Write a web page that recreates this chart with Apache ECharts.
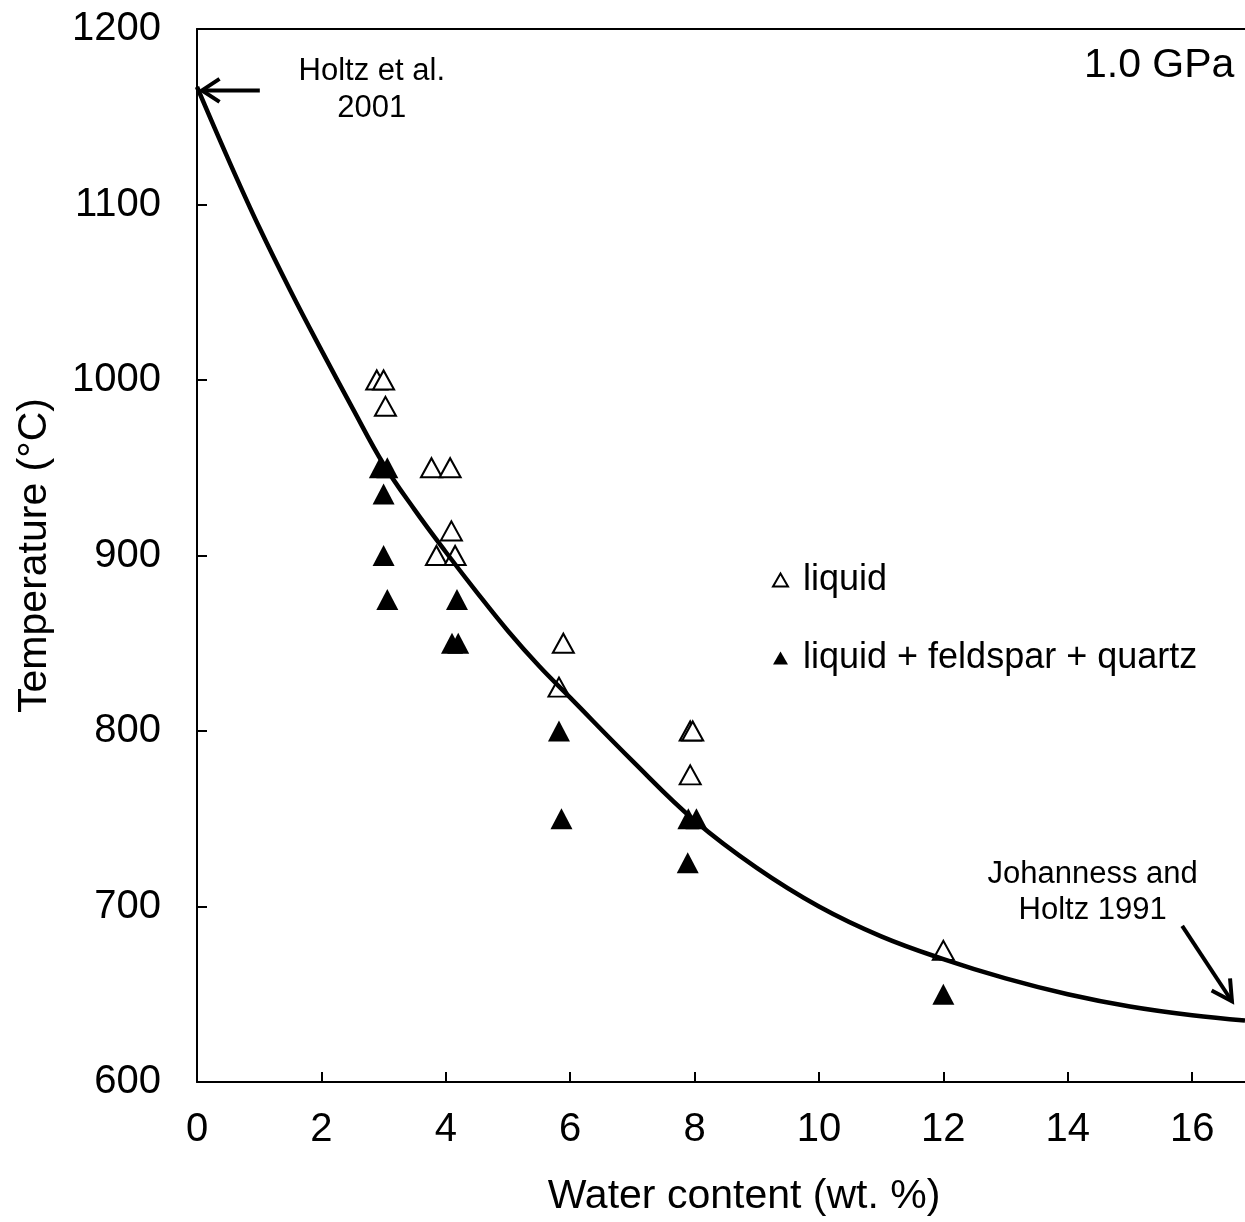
<!DOCTYPE html>
<html>
<head>
<meta charset="utf-8">
<script src="https://cdn.jsdelivr.net/npm/echarts@6/dist/echarts.min.js"></script>
<style>
html,body{margin:0;padding:0;background:#fff;}
#chart{width:1245px;height:1222px;}
</style>
</head>
<body>
<div id="chart"></div>
<script>
// ---- data ----
const liquidX = [2.89, 3.0, 3.03, 3.77, 4.07, 4.09, 3.85, 4.15, 5.89, 5.82, 7.93, 7.97, 7.93, 12.0];
const liquidT = [1000, 1000, 985, 950, 950, 914, 900, 900, 850, 825, 800, 800, 775, 675];
const lfqX = [2.94, 3.06, 3.0, 3.0, 3.06, 4.18, 4.1, 4.2, 5.82, 5.86, 7.9, 8.03, 7.89, 12.0];
const lfqT = [950, 950, 935, 900, 875, 875, 850, 850, 800, 750, 750, 750, 725, 650];
const curveX = [0, 0.5, 1, 1.5, 2, 2.5, 3, 3.5, 4, 4.5, 5, 5.5, 6, 7, 8, 9, 10, 11, 12, 13, 14, 15, 16, 16.85];
const curveT = [1167, 1126, 1087, 1051, 1017, 984, 952, 926, 902, 879, 857, 837, 819, 783, 749, 722, 700, 683, 670, 659, 650, 643, 638, 635];
const xTicks = [0, 2, 4, 6, 8, 10, 12, 14, 16];
const yTicks = [600, 700, 800, 900, 1000, 1100, 1200];
const seriesNames = ['liquid', 'liquid + feldspar + quartz'];

const FONT = "'Liberation Sans', Arial, Helvetica, sans-serif";
const zip = (a, b) => a.map((v, i) => [v, b[i]]);

const chart = echarts.init(document.getElementById('chart'), null, {renderer: 'canvas'});
chart.setOption({
  animation: false,
  backgroundColor: '#fff',
  grid: {left: 197, top: 29, width: 1048, height: 1055, show: false},
  legend: {
    data: seriesNames,
    orient: 'vertical',
    left: 767, top: 557,
    itemWidth: 15, itemHeight: 13, itemGap: 42,
    icon: 'triangle',
    textStyle: {fontFamily: FONT, fontSize: 36, color: '#000', padding: [0, 0, 0, 10]}
  },
  xAxis: [{
    type: 'value', min: 0, max: 16.85, interval: 2,
    name: 'Water content (wt. %)', nameLocation: 'middle', nameGap: 94,
    nameTextStyle: {fontFamily: FONT, fontSize: 41, color: '#000', padding: [0, 0, 0, 46]},
    axisLine: {show: true, onZero: false, lineStyle: {color: '#000', width: 2}},
    axisTick: {show: true, inside: true, length: 10, lineStyle: {color: '#000', width: 2}},
    axisLabel: {fontFamily: FONT, fontSize: 40, color: '#000', margin: 28, showMaxLabel: false,
      formatter: v => xTicks.includes(v) ? String(v) : ''},
    splitLine: {show: false}
  }, {
    type: 'value', min: 0, max: 16.85, position: 'top',
    axisLine: {show: true, onZero: false, lineStyle: {color: '#000', width: 2}},
    axisTick: {show: false}, axisLabel: {show: false}, splitLine: {show: false}
  }],
  yAxis: {
    type: 'value', min: 600, max: 1200, interval: 100,
    name: 'Temperature (°C)', nameLocation: 'middle', nameGap: 142, nameRotate: 90,
    nameTextStyle: {fontFamily: FONT, fontSize: 41, color: '#000'},
    axisLine: {show: true, onZero: false, lineStyle: {color: '#000', width: 2}},
    axisTick: {show: true, inside: true, length: 10, lineStyle: {color: '#000', width: 2}},
    axisLabel: {fontFamily: FONT, fontSize: 40, color: '#000', margin: 36,
      formatter: v => yTicks.includes(v) ? String(v) : ''},
    splitLine: {show: false}
  },
  series: [
    {
      name: 'curve', type: 'line', data: zip(curveX, curveT), smooth: 0.4,
      showSymbol: false, symbol: 'none', z: 5,
      lineStyle: {color: '#000', width: 4.5}
    },
    {
      name: seriesNames[0], type: 'scatter', data: zip(liquidX, liquidT),
      symbol: 'triangle', symbolSize: [21, 19], z: 3,
      itemStyle: {color: '#fff', borderColor: '#000', borderWidth: 2, opacity: 1}
    },
    {
      name: seriesNames[1], type: 'scatter', data: zip(lfqX, lfqT),
      symbol: 'triangle', symbolSize: [22, 21], z: 3,
      itemStyle: {color: '#000', borderColor: '#000', borderWidth: 0, opacity: 1}
    }
  ]
});

// ---- annotations (positioned in data units) ----
const px = (x, y) => chart.convertToPixel({gridIndex: 0}, [x, y]);
function arrow(tail, tip, headLen, headAng) {
  const a = Math.atan2(tip[1] - tail[1], tip[0] - tail[0]);
  const l = [tip[0] - headLen * Math.cos(a - headAng), tip[1] - headLen * Math.sin(a - headAng)];
  const r = [tip[0] - headLen * Math.cos(a + headAng), tip[1] - headLen * Math.sin(a + headAng)];
  return [
    {type: 'polyline', shape: {points: [tail, tip]}, style: {stroke: '#000', lineWidth: 4, fill: null}, z: 10},
    {type: 'polyline', shape: {points: [l, tip, r]}, style: {stroke: '#000', lineWidth: 4, fill: null, lineJoin: 'miter'}, z: 10}
  ];
}
const holtzTip = px(0.08, 1165), holtzTail = px(1.01, 1165);
const johTail = px(15.84, 689), johTip = px(16.64, 646);
const holtzTxt = px(2.81, 1165);
const gpaTxt = px(15.47, 1179);
const johTxt = px(14.4, 708);

chart.setOption({
  graphic: [
    ...arrow(holtzTail, holtzTip, 21, 0.58),
    ...arrow(johTail, johTip, 23, 0.5),
    {type: 'text', x: holtzTxt[0], y: holtzTxt[1], z: 10,
      style: {text: 'Holtz et al.\n2001', font: '31px ' + FONT, fill: '#000', align: 'center', verticalAlign: 'middle', lineHeight: 37}},
    {type: 'text', x: gpaTxt[0], y: gpaTxt[1], z: 10,
      style: {text: '1.0 GPa', font: '41px ' + FONT, fill: '#000', align: 'center', verticalAlign: 'middle'}},
    {type: 'text', x: johTxt[0], y: johTxt[1], z: 10,
      style: {text: 'Johanness and\nHoltz 1991', font: '31px ' + FONT, fill: '#000', align: 'center', verticalAlign: 'middle', lineHeight: 36}}
  ]
});
</script>
</body>
</html>
